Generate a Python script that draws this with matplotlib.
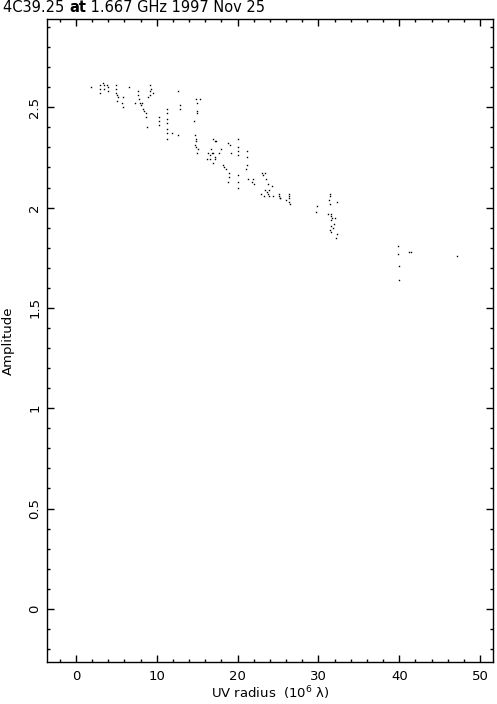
import matplotlib
matplotlib.use("Agg")
import matplotlib.pyplot as plt
from matplotlib.ticker import MultipleLocator

# UV radius (10^6 lambda) and amplitude
uv_radius = [
    1.9, 3.0, 3.0, 3.0, 3.3, 3.5, 3.5, 3.8, 4.0, 4.0,
    5.0, 4.9, 5.0, 5.1, 5.2, 5.1, 5.7, 5.8, 5.8,
    6.6, 7.3, 7.7, 7.7, 7.8, 7.9, 8.0,
    8.2, 8.3, 8.4, 8.6, 8.6, 8.8,
    8.9, 9.1, 9.2, 9.3, 9.5, 9.1,
    10.3, 10.3, 10.3,
    11.3, 11.3, 11.3, 11.3, 11.3, 11.2, 11.2, 11.9, 12.6,
    12.6, 12.9, 12.9,
    14.9, 15.0, 15.0, 15.0, 15.3, 14.6,
    14.7, 14.9, 14.7, 14.8, 15.1, 14.8, 15.0,
    16.3, 16.6, 16.8, 17.0, 17.2, 16.2, 16.6, 17.0, 17.2, 16.7, 17.3, 17.0, 17.2,
    17.7, 18.8, 19.1, 19.2,
    18.0, 18.2, 18.3, 18.5, 18.9, 18.9, 18.8,
    20.0, 20.0, 20.0, 20.0, 20.0, 20.0, 20.0,
    21.1, 21.1, 21.2, 21.0, 21.3, 21.9, 22.0, 21.8,
    23.0, 23.2, 23.4, 23.5, 23.7, 23.4, 23.6, 23.9, 23.7, 24.2, 22.9, 23.3, 23.9, 24.4, 25.1, 25.1, 25.2,
    25.3, 26.0, 26.3, 26.4, 26.4, 26.4, 26.5,
    29.8, 29.7,
    31.4, 31.4, 31.3, 31.4, 32.3,
    31.2, 31.5, 31.6, 31.7, 32.0, 31.5,
    31.6, 31.8, 31.4, 32.3, 32.2, 31.5, 31.9,
    39.9, 39.9, 40.0, 40.0, 41.2, 41.5, 47.1,
]
amplitude = [
    2.60, 2.61, 2.59, 2.57, 2.62, 2.61, 2.59, 2.61, 2.60, 2.58,
    2.61, 2.59, 2.57, 2.56, 2.55, 2.53, 2.52, 2.50, 2.55,
    2.60, 2.52, 2.58, 2.56, 2.54, 2.52, 2.51,
    2.52, 2.49, 2.48, 2.47, 2.45, 2.40,
    2.55, 2.58, 2.61, 2.59, 2.57, 2.56,
    2.45, 2.43, 2.41,
    2.49, 2.47, 2.44, 2.42, 2.39, 2.37, 2.34, 2.37, 2.36,
    2.58, 2.51, 2.49,
    2.54, 2.52, 2.48, 2.47, 2.54, 2.43,
    2.36, 2.34, 2.31, 2.30, 2.29, 2.33, 2.27,
    2.27, 2.26, 2.27, 2.27, 2.25, 2.24, 2.24, 2.22, 2.24, 2.29, 2.33, 2.34, 2.33,
    2.27, 2.32, 2.31, 2.27,
    2.29, 2.21, 2.20, 2.19, 2.17, 2.15, 2.13,
    2.34, 2.30, 2.28, 2.26, 2.16, 2.13, 2.10,
    2.28, 2.25, 2.21, 2.19, 2.14, 2.14, 2.12, 2.13,
    2.17, 2.16, 2.17, 2.14, 2.12, 2.09, 2.08, 2.09, 2.07, 2.11, 2.07, 2.06, 2.06, 2.06, 2.07, 2.06, 2.05,
    2.05, 2.04, 2.06, 2.07, 2.05, 2.03, 2.02,
    2.01, 1.98,
    2.07, 2.06, 2.04, 2.02, 2.03,
    1.97, 1.97, 1.96, 1.95, 1.95, 1.94,
    1.91, 1.90, 1.89, 1.87, 1.85, 1.88, 1.92,
    1.81, 1.77, 1.71, 1.64, 1.78, 1.78, 1.76,
]

x_ticks = [0, 10, 20, 30, 40, 50]
y_ticks = [0, 0.5, 1, 1.5, 2, 2.5]
y_tick_labels = ["0", "0.5", "1", "1.5", "2", "2.5"]

fs = 9.5
fig = plt.figure(figsize=(4.97, 7.04), dpi=100)
W, H = 497, 704
ax = fig.add_axes([47 / W, 1 - 662 / H, (493 - 47) / W, (662 - 19) / H])

ax.plot(uv_radius, amplitude, linestyle="none", marker="s", markersize=1.0,
        markeredgewidth=0, color="black")

ax.set_xlim(-3.59, 51.6)
ax.set_ylim(-0.265, 2.94)
ax.set_xticks(x_ticks)
ax.set_xticklabels([str(v) for v in x_ticks])
ax.set_yticks(y_ticks)
ax.set_yticklabels(y_tick_labels, rotation=90, va="center")
ax.xaxis.set_minor_locator(MultipleLocator(2))
ax.yaxis.set_minor_locator(MultipleLocator(0.1))
ax.tick_params(which="both", direction="in", top=True, right=True, width=1.0,
               labelsize=fs, colors="black")
ax.tick_params(which="major", length=4.7)
ax.tick_params(axis="x", which="major", pad=6)
ax.tick_params(axis="y", which="major", pad=4)
ax.tick_params(which="minor", length=2.4)
for s in ax.spines.values():
    s.set_linewidth(1.0)

ax.set_xlabel("UV radius  (10$^6$ λ)", fontsize=fs, labelpad=1)
ax.set_ylabel("Amplitude", fontsize=fs, va="center")
ax.yaxis.set_label_coords((8 - 47) / 446, 0.5)

# Title with bold "at"
fig.canvas.draw()
r = fig.canvas.get_renderer()
xpos = 3
ypos = H - 8
parts = [("4C39.25 ", "normal"), ("at", "bold"), (" 1.667 GHz 1997 Nov 25", "normal")]
for txt, wgt in parts:
    t = fig.text(xpos / W, ypos / H, txt, fontsize=10.5, fontweight=wgt,
                 ha="left", va="center")
    bb = t.get_window_extent(renderer=r)
    xpos += bb.width

fig.savefig("out.png", dpi=100)
